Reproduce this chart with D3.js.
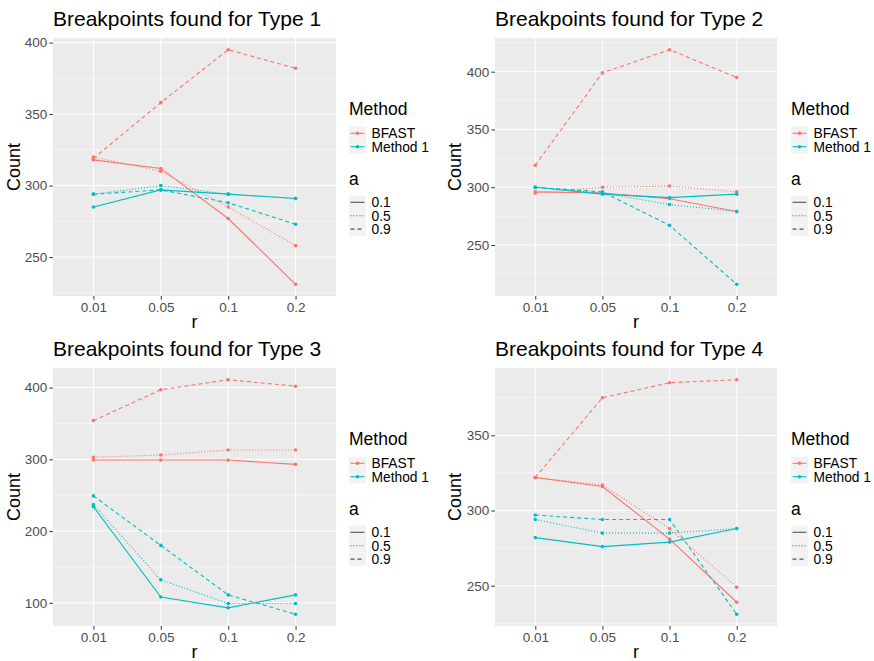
<!DOCTYPE html>
<html>
<head>
<meta charset="utf-8">
<script src="https://cdn.jsdelivr.net/npm/d3@7"></script>
<style>
  body { margin: 0; background: #fff; }
  svg { font-family: "Liberation Sans", Arial, sans-serif; }
</style>
</head>
<body>
<div id="chart"></div>
<script>
// categories
const rLevels = ['0.01', '0.05', '0.1', '0.2'];
const methods = ['BFAST', 'Method 1'];
const aLevels = ['0.1', '0.5', '0.9'];
const titles = ['Breakpoints found for Type 1', 'Breakpoints found for Type 2',
                'Breakpoints found for Type 3', 'Breakpoints found for Type 4'];

// values, one array per Method / a, in rLevels order
const type1Bfast01 = [318, 312, 277, 231];
const type1Bfast05 = [320, 310, 285, 258];
const type1Bfast09 = [319, 358, 395, 382];
const type1M101 = [285, 297, 294, 291];
const type1M105 = [294, 300, 294, 291];
const type1M109 = [294, 297, 288, 273];

const type2Bfast01 = [296, 295, 290, 279];
const type2Bfast05 = [295, 300, 301, 296];
const type2Bfast09 = [319, 399, 419, 395];
const type2M101 = [300, 294, 291, 294];
const type2M105 = [300, 295, 285, 279];
const type2M109 = [300, 296, 267, 216];

const type3Bfast01 = [299, 299, 299, 293];
const type3Bfast05 = [303, 306, 313, 313];
const type3Bfast09 = [354, 397, 411, 402];
const type3M101 = [234, 108, 93, 111];
const type3M105 = [237, 132, 99, 99];
const type3M109 = [249, 180, 111, 84];

const type4Bfast01 = [322, 316, 281, 239];
const type4Bfast05 = [322, 317, 288, 249];
const type4Bfast09 = [322, 375, 385, 387];
const type4M101 = [282, 276, 279, 288];
const type4M105 = [294, 285, 285, 288];
const type4M109 = [297, 294, 294, 231];

// y tick labels per panel
const yTicks1 = [250, 300, 350, 400];
const yTicks2 = [250, 300, 350, 400];
const yTicks3 = [100, 200, 300, 400];
const yTicks4 = [250, 300, 350];

const typeSeries = [
  [[type1Bfast01, type1Bfast05, type1Bfast09], [type1M101, type1M105, type1M109]],
  [[type2Bfast01, type2Bfast05, type2Bfast09], [type2M101, type2M105, type2M109]],
  [[type3Bfast01, type3Bfast05, type3Bfast09], [type3M101, type3M105, type3M109]],
  [[type4Bfast01, type4Bfast05, type4Bfast09], [type4M101, type4M105, type4M109]]
];
const typeTicks = [yTicks1, yTicks2, yTicks3, yTicks4];

const colors = { 'BFAST': '#F8766D', 'Method 1': '#00BFC4' };
const dashes = { '0.1': null, '0.5': '1,2', '0.9': '4,3' };

const W = 874, H = 661;
const svg = d3.select('#chart').append('svg')
  .attr('width', W).attr('height', H);

// panel frames (plot area in page pixels)
const frames = [
  { left: 53, right: 336, top: 38, bottom: 296, oy: 0, legX: 349, yLab: 14 },
  { left: 495, right: 777, top: 38, bottom: 296, oy: 0, legX: 791, yLab: 455 },
  { left: 53, right: 336, top: 368, bottom: 626, oy: 330, legX: 349, yLab: 14 },
  { left: 495, right: 777, top: 368, bottom: 626, oy: 330, legX: 791, yLab: 455 }
];

frames.forEach((f, i) => {
  const series = [];
  methods.forEach((m, mi) => {
    aLevels.forEach((a, ai) => {
      series.push({ method: m, a: a, values: typeSeries[i][mi][ai] });
    });
  });
  const all = series.flatMap(s => s.values);
  const lo = d3.min(all), hi = d3.max(all);
  const pad = (hi - lo) * 0.05;

  const x = d3.scalePoint().domain(rLevels)
    .range([f.left, f.right]).padding(0.6);
  const y = d3.scaleLinear().domain([lo - pad, hi + pad])
    .range([f.bottom, f.top]);

  const g = svg.append('g');

  // panel background
  g.append('rect')
    .attr('x', f.left).attr('y', f.top)
    .attr('width', f.right - f.left).attr('height', f.bottom - f.top)
    .attr('fill', '#EBEBEB');

  // minor grid
  const ticks = typeTicks[i];
  const step = ticks[1] - ticks[0];
  const minor = d3.range(ticks[0] - step / 2, ticks[ticks.length - 1] + step, step)
    .filter(v => v >= lo - pad && v <= hi + pad);
  g.selectAll('.minor').data(minor).enter().append('line')
    .attr('x1', f.left).attr('x2', f.right)
    .attr('y1', d => y(d)).attr('y2', d => y(d))
    .attr('stroke', '#fff').attr('stroke-width', 0.5);

  // major grid
  g.selectAll('.gy').data(ticks).enter().append('line')
    .attr('x1', f.left).attr('x2', f.right)
    .attr('y1', d => y(d)).attr('y2', d => y(d))
    .attr('stroke', '#fff').attr('stroke-width', 1);
  g.selectAll('.gx').data(rLevels).enter().append('line')
    .attr('y1', f.top).attr('y2', f.bottom)
    .attr('x1', d => x(d)).attr('x2', d => x(d))
    .attr('stroke', '#fff').attr('stroke-width', 1);

  // axes
  const xAxis = g.append('g')
    .attr('transform', `translate(0,${f.bottom})`)
    .call(d3.axisBottom(x).tickSize(3.7).tickPadding(3));
  const yAxis = g.append('g')
    .attr('transform', `translate(${f.left},0)`)
    .call(d3.axisLeft(y).tickValues(ticks).tickSize(3.7).tickPadding(2));
  [xAxis, yAxis].forEach(ax => {
    ax.select('.domain').remove();
    ax.selectAll('.tick line').attr('stroke', '#333');
    ax.selectAll('.tick text').attr('fill', '#4D4D4D')
      .style('font-size', '13.5px').style('font-family', '"Liberation Sans", Arial, sans-serif');
  });

  // lines and points
  const line = d3.line().x((d, k) => x(rLevels[k])).y(d => y(d));
  series.forEach(s => {
    g.append('path')
      .attr('d', line(s.values))
      .attr('fill', 'none')
      .attr('stroke', colors[s.method])
      .attr('stroke-width', 1.1)
      .attr('stroke-dasharray', dashes[s.a]);
    g.selectAll(null).data(s.values).enter().append('circle')
      .attr('cx', (d, k) => x(rLevels[k]))
      .attr('cy', d => y(d))
      .attr('r', 1.8)
      .attr('fill', colors[s.method]);
  });

  // title
  g.append('text')
    .attr('x', f.left).attr('y', f.oy + 26)
    .style('font-size', '21px').attr('fill', '#000')
    .text(titles[i]);

  // axis titles
  g.append('text')
    .attr('x', (f.left + f.right) / 2).attr('y', f.oy + 328)
    .attr('text-anchor', 'middle')
    .style('font-size', '18px').text('r');
  g.append('text')
    .attr('transform', `translate(${f.yLab + 6},${(f.top + f.bottom) / 2}) rotate(-90)`)
    .attr('text-anchor', 'middle')
    .style('font-size', '18px').text('Count');

  // legend: Method
  const lg = g.append('g').attr('transform', `translate(${f.legX},${f.oy})`);
  lg.append('text').attr('x', 0).attr('y', 115)
    .style('font-size', '17.5px').text('Method');
  methods.forEach((m, k) => {
    const cy = 133.3 + k * 13.4;
    lg.append('rect').attr('x', 0).attr('y', cy - 6.7)
      .attr('width', 17).attr('height', 13.4).attr('fill', '#F2F2F2');
    lg.append('line').attr('x1', 1.5).attr('x2', 15.5)
      .attr('y1', cy).attr('y2', cy)
      .attr('stroke', colors[m]).attr('stroke-width', 1.1);
    lg.append('circle').attr('cx', 8.5).attr('cy', cy).attr('r', 1.8)
      .attr('fill', colors[m]);
    lg.append('text').attr('x', 22.5).attr('y', cy + 5)
      .style('font-size', '13.8px').text(m);
  });

  // legend: a
  lg.append('text').attr('x', 0).attr('y', 185)
    .style('font-size', '17.5px').text('a');
  aLevels.forEach((a, k) => {
    const cy = 202.3 + k * 13.4;
    lg.append('rect').attr('x', 0).attr('y', cy - 6.7)
      .attr('width', 17).attr('height', 13.4).attr('fill', '#F2F2F2');
    lg.append('line').attr('x1', 1.5).attr('x2', 15.5)
      .attr('y1', cy).attr('y2', cy)
      .attr('stroke', '#555').attr('stroke-width', 1.1)
      .attr('stroke-dasharray', dashes[a]);
    lg.append('text').attr('x', 22.5).attr('y', cy + 5)
      .style('font-size', '13.8px').text(a);
  });
});
</script>
</body>
</html>
